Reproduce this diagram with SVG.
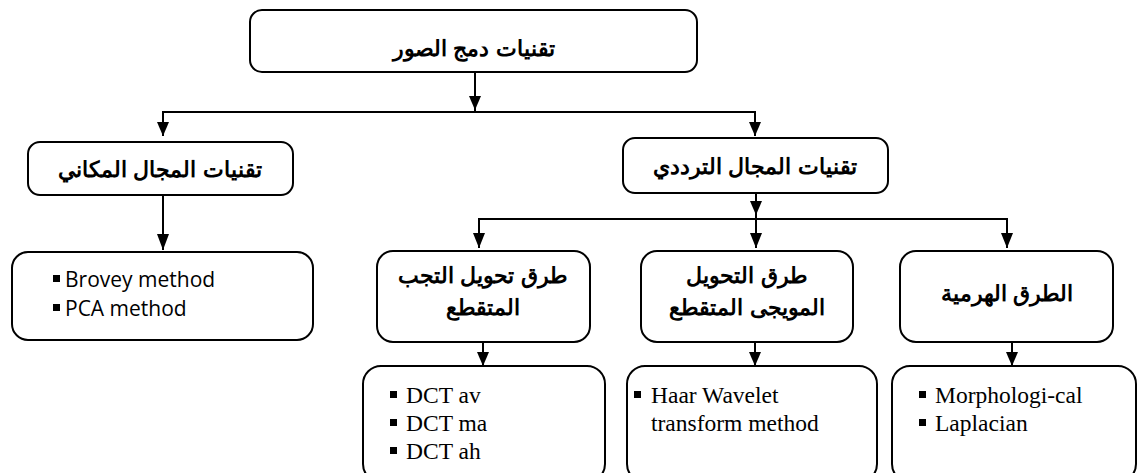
<svg xmlns="http://www.w3.org/2000/svg" width="1138" height="473" viewBox="0 0 1138 473">
<style>
.box{fill:#fff;stroke:#000;stroke-width:2}
.ar{font-family:"Liberation Sans",Arial,sans-serif;font-weight:bold;font-size:22px;fill:#000;text-anchor:middle}
.en{font-family:"Open Sans","Noto Sans",sans-serif;font-size:21px;fill:#000}
.tr{font-family:"Liberation Serif","Times New Roman",serif;font-size:23.5px;fill:#000}
.c{fill:none;stroke:#000;stroke-width:2}
.b{fill:#000}
</style>
<g id="connectors">
<line class="c" x1="475" y1="72" x2="475" y2="112"/>
<path d="M469,96 L481,96 L475,110 Z" class="b"/>
<polyline class="c" points="163,136 163,112 755,112 755,136"/>
<path d="M157,122 L169,122 L163,136 Z" class="b"/>
<path d="M749,122 L761,122 L755,136 Z" class="b"/>
<line class="c" x1="163" y1="195" x2="163" y2="250"/>
<path d="M157,234 L169,234 L163,250 Z" class="b"/>
<line class="c" x1="756" y1="193" x2="756" y2="219"/>
<path d="M750,201 L762,201 L756,215 Z" class="b"/>
<polyline class="c" points="479,248 479,219 1007,219 1007,248"/>
<line class="c" x1="756" y1="219" x2="756" y2="248"/>
<path d="M473,233 L485,233 L479,248 Z" class="b"/>
<path d="M750,233 L762,233 L756,248 Z" class="b"/>
<path d="M1001,233 L1013,233 L1007,248 Z" class="b"/>
<line class="c" x1="483" y1="342" x2="483" y2="366"/>
<path d="M477,352 L489,352 L483,366 Z" class="b"/>
<line class="c" x1="755" y1="342" x2="755" y2="366"/>
<path d="M749,352 L761,352 L755,366 Z" class="b"/>
<line class="c" x1="1012" y1="342" x2="1012" y2="366"/>
<path d="M1006,352 L1018,352 L1012,366 Z" class="b"/>
</g>
<g id="root">
<rect class="box" x="250" y="10" width="447" height="62" rx="12"/>
<text class="ar" x="474" y="56">تقنيات دمج الصور</text>
</g>
<g id="spatial">
<rect class="box" x="28" y="142" width="265" height="53" rx="12"/>
<text class="ar" x="160" y="177">تقنيات المجال المكاني</text>
</g>
<g id="frequency">
<rect class="box" x="623" y="138" width="265" height="55" rx="12"/>
<text class="ar" x="755" y="174">تقنيات المجال الترددي</text>
</g>
<g id="spatial-methods">
<rect class="box" x="12" y="252" width="301" height="88" rx="16"/>
<rect class="b" x="53" y="275" width="7" height="7"/>
<text class="en" x="65" y="287">Brovey method</text>
<rect class="b" x="53" y="304" width="7" height="7"/>
<text class="en" x="65" y="316">PCA method</text>
</g>
<g id="dct">
<rect class="box" x="377" y="251" width="213" height="91" rx="16"/>
<text class="ar" x="483" y="283">طرق تحويل التجب</text>
<text class="ar" x="483" y="315">المتقطع</text>
</g>
<g id="wavelet">
<rect class="box" x="641" y="251" width="212" height="91" rx="16"/>
<text class="ar" x="747" y="283">طرق التحويل</text>
<text class="ar" x="747" y="315">المويجى المتقطع</text>
</g>
<g id="pyramid">
<rect class="box" x="900" y="251" width="213" height="91" rx="16"/>
<text class="ar" x="1007" y="301">الطرق الهرمية</text>
</g>
<g id="dct-list">
<rect class="box" x="363" y="366" width="242" height="116" rx="18"/>
<rect class="b" x="390" y="391" width="7" height="7"/>
<text class="tr" x="406" y="403">DCT av</text>
<rect class="b" x="390" y="419" width="7" height="7"/>
<text class="tr" x="406" y="431">DCT ma</text>
<rect class="b" x="390" y="447" width="7" height="7"/>
<text class="tr" x="406" y="459">DCT ah</text>
</g>
<g id="wavelet-list">
<rect class="box" x="627" y="366" width="250" height="116" rx="18"/>
<rect class="b" x="634" y="391" width="7" height="7"/>
<text class="tr" x="651" y="403">Haar Wavelet</text>
<text class="tr" x="651" y="431">transform method</text>
</g>
<g id="pyramid-list">
<rect class="box" x="892" y="366" width="244" height="116" rx="18"/>
<rect class="b" x="919" y="391" width="7" height="7"/>
<text class="tr" x="935" y="403">Morphologi-cal</text>
<rect class="b" x="919" y="419" width="7" height="7"/>
<text class="tr" x="935" y="431">Laplacian</text>
</g>
</svg>
